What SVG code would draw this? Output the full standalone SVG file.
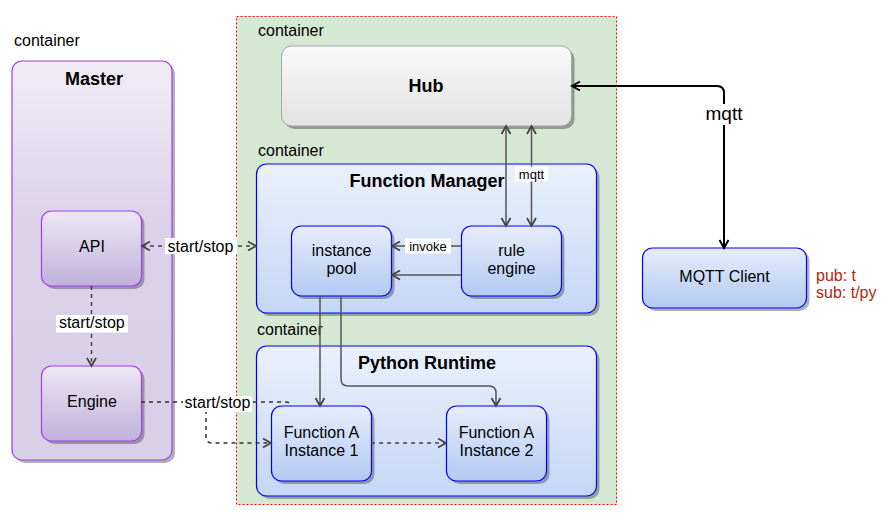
<svg xmlns="http://www.w3.org/2000/svg" width="882" height="513" viewBox="0 0 882 513">
<defs>
<style>
text{font-family:"Liberation Sans",Arial,Helvetica,sans-serif;fill:#000}
.lbl{font-size:16px}
.ttl{font-size:18px;font-weight:bold;text-anchor:middle}
.ctr{font-size:16px;text-anchor:middle}
.sm{font-size:13px;text-anchor:middle}
.red{font-size:16px;fill:#b3250e}
.shd{fill:#000;opacity:0.3}
.e{fill:none;stroke:#555;stroke-width:1.5}
.d{fill:none;stroke:#444;stroke-width:1.5;stroke-dasharray:4 4}
.bg{fill:#fff}
</style>
<linearGradient id="gMaster" x1="0" y1="0" x2="0" y2="1">
<stop offset="0" stop-color="#f1edf7"/><stop offset="0.4" stop-color="#dbd2e9"/><stop offset="1" stop-color="#d9cfe7"/>
</linearGradient>
<linearGradient id="gPurple" x1="0" y1="0" x2="0" y2="1">
<stop offset="0" stop-color="#ece7f4"/><stop offset="1" stop-color="#c1b1db"/>
</linearGradient>
<linearGradient id="gBlue" x1="0" y1="0" x2="0" y2="1">
<stop offset="0" stop-color="#e6edfb"/><stop offset="1" stop-color="#b2caf2"/>
</linearGradient>
<linearGradient id="gBlueC" x1="0" y1="0" x2="0" y2="1">
<stop offset="0" stop-color="#ebf1fc"/><stop offset="1" stop-color="#c4d7f6"/>
</linearGradient>
<linearGradient id="gHub" x1="0" y1="0" x2="0" y2="1">
<stop offset="0" stop-color="#f8f8f8"/><stop offset="1" stop-color="#e3e3e3"/>
</linearGradient>
<marker id="aG" markerWidth="12" markerHeight="12" refX="9" refY="5" orient="auto-start-reverse" markerUnits="userSpaceOnUse" viewBox="0 0 12 10">
<path d="M1,0.5 L9,5 L1,9.5" fill="none" stroke="#444" stroke-width="1.8"/>
</marker>
<marker id="aK" markerWidth="12" markerHeight="12" refX="9" refY="5" orient="auto-start-reverse" markerUnits="userSpaceOnUse" viewBox="0 0 12 10">
<path d="M1,0.5 L9,5 L1,9.5" fill="none" stroke="#000" stroke-width="2"/>
</marker>
</defs>
<rect width="882" height="513" fill="#fff"/>

<g id="master-container">
<text class="lbl" x="14" y="45.5">container</text>
<rect class="shd" x="15" y="64" width="160" height="399" rx="10"/>
<rect x="12" y="61" width="160" height="399" rx="10" fill="url(#gMaster)" stroke="#a23df5" stroke-width="1.2"/>
<text class="ttl" x="94" y="85">Master</text>
</g>

<g id="edge-container">
<rect x="236.5" y="16.5" width="380" height="488" fill="#d5e8d4" stroke="#f00" stroke-width="1" stroke-dasharray="2 2"/>
<text class="lbl" x="258" y="35.5">container</text>
<text class="lbl" x="258" y="155.5">container</text>
<text class="lbl" x="257" y="335">container</text>
</g>

<g id="hub">
<rect x="284.5" y="49" width="290" height="80" rx="10" fill="#000" opacity="0.33"/>
<rect x="281.5" y="46" width="290" height="80" rx="10" fill="url(#gHub)" stroke="#a8a8a8" stroke-width="1"/>
<text class="ttl" x="426" y="92">Hub</text>
</g>

<g id="function-manager">
<rect class="shd" x="259.5" y="167" width="340" height="149" rx="10"/>
<rect x="256.5" y="164" width="340" height="149" rx="10" fill="url(#gBlueC)" stroke="#00f" stroke-width="1.2"/>
<text class="ttl" x="427" y="187">Function Manager</text>
</g>

<g id="python-runtime">
<rect class="shd" x="259.5" y="349" width="340" height="150" rx="10"/>
<rect x="256.5" y="346" width="340" height="150" rx="10" fill="url(#gBlueC)" stroke="#00f" stroke-width="1.2"/>
<text class="ttl" x="427" y="369">Python Runtime</text>
</g>

<g id="api">
<rect class="shd" x="44.5" y="214" width="100" height="75" rx="10"/>
<rect x="41.5" y="211" width="100" height="75" rx="10" fill="url(#gPurple)" stroke="#a23df5" stroke-width="1.2"/>
<text class="ctr" x="92" y="252">API</text>
</g>

<g id="engine">
<rect class="shd" x="44.5" y="369" width="100" height="75" rx="10"/>
<rect x="41.5" y="366" width="100" height="75" rx="10" fill="url(#gPurple)" stroke="#a23df5" stroke-width="1.2"/>
<text class="ctr" x="92" y="407">Engine</text>
</g>

<g id="instance-pool">
<rect class="shd" x="294.5" y="229" width="100" height="70" rx="10"/>
<rect x="291.5" y="226" width="100" height="70" rx="10" fill="url(#gBlue)" stroke="#00f" stroke-width="1.2"/>
<text class="ctr" x="341.5" y="256">instance</text>
<text class="ctr" x="341.5" y="274">pool</text>
</g>

<g id="rule-engine">
<rect class="shd" x="464.5" y="229" width="100" height="70" rx="10"/>
<rect x="461.5" y="226" width="100" height="70" rx="10" fill="url(#gBlue)" stroke="#00f" stroke-width="1.2"/>
<text class="ctr" x="511.5" y="256">rule</text>
<text class="ctr" x="511.5" y="274">engine</text>
</g>

<g id="instance-1">
<rect class="shd" x="274.5" y="409" width="100" height="75" rx="10"/>
<rect x="271.5" y="406" width="100" height="75" rx="10" fill="url(#gBlue)" stroke="#00f" stroke-width="1.2"/>
<text class="ctr" x="321.5" y="438">Function A</text>
<text class="ctr" x="321.5" y="456">Instance 1</text>
</g>

<g id="instance-2">
<rect class="shd" x="449.5" y="409" width="100" height="75" rx="10"/>
<rect x="446.5" y="406" width="100" height="75" rx="10" fill="url(#gBlue)" stroke="#00f" stroke-width="1.2"/>
<text class="ctr" x="496.5" y="438">Function A</text>
<text class="ctr" x="496.5" y="456">Instance 2</text>
</g>

<g id="mqtt-client">
<rect class="shd" x="645.5" y="251" width="164" height="60" rx="10"/>
<rect x="642.5" y="248" width="164" height="60" rx="10" fill="url(#gBlue)" stroke="#00f" stroke-width="1.2"/>
<text class="ctr" x="724.5" y="282">MQTT Client</text>
<text class="red" x="816" y="280.5">pub: t</text>
<text class="red" x="816" y="298">sub: t/py</text>
</g>

<g id="connectors">
<path d="M724,248 L724,93 Q724,86 717,86 L572,86" fill="none" stroke="#000" stroke-width="2" marker-start="url(#aK)" marker-end="url(#aK)"/>
<rect class="bg" x="706" y="104" width="36" height="21"/>
<text x="724" y="119.5" style="font-size:19px;text-anchor:middle">mqtt</text>

<path class="e" d="M506,126 L506,226" marker-start="url(#aG)" marker-end="url(#aG)"/>
<path class="e" d="M531.5,126 L531.5,226" marker-start="url(#aG)" marker-end="url(#aG)"/>
<rect class="bg" x="515" y="166.5" width="33" height="15"/>
<text class="sm" x="531.5" y="179">mqtt</text>

<path class="e" d="M461,246 L392,246" marker-end="url(#aG)"/>
<rect class="bg" x="405" y="238.5" width="46" height="15"/>
<text class="sm" x="428" y="251">invoke</text>
<path class="e" d="M461,275 L392,275" marker-end="url(#aG)"/>

<path class="e" d="M320,296 L320,406" marker-end="url(#aG)"/>
<path class="e" d="M341,296 L341,379 Q341,386 348,386 L489,386 Q496,386 496,393 L496,406" marker-end="url(#aG)"/>

<path class="d" d="M371,443 L446,443" marker-end="url(#aG)"/>

<path class="d" d="M142,246 L256,246" marker-start="url(#aG)" marker-end="url(#aG)"/>
<rect class="bg" x="165" y="238" width="72" height="16"/>
<text class="lbl" x="200.5" y="251.5" style="text-anchor:middle">start/stop</text>

<path class="d" d="M91.5,286 L91.5,366" marker-end="url(#aG)"/>
<rect class="bg" x="56" y="315" width="72" height="17.5"/>
<text class="lbl" x="91.8" y="328" style="text-anchor:middle">start/stop</text>

<path class="d" d="M141,402 L286,402 Q290,402 290,406" style="stroke:#333"/>
<path class="d" d="M206,402 L206,437 Q206,443 212,443 L271,443" style="stroke:#333" marker-end="url(#aG)"/>
<rect class="bg" x="183" y="396" width="69" height="16"/>
<text class="lbl" x="217.5" y="407.5" style="text-anchor:middle">start/stop</text>
</g>
</svg>
